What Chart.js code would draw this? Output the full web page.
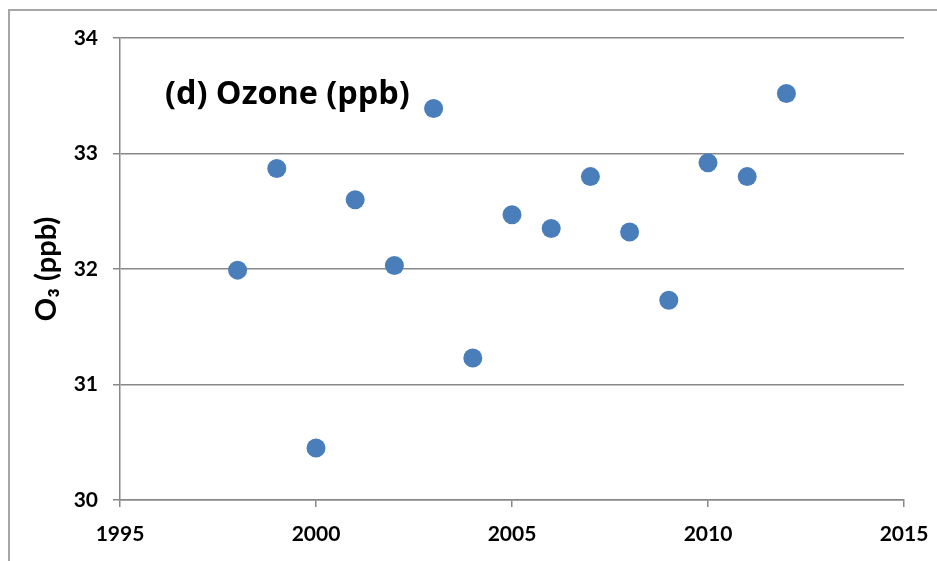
<!DOCTYPE html>
<html><head><meta charset="utf-8">
<script src="https://cdn.jsdelivr.net/npm/chart.js@4/dist/chart.umd.min.js"></script>
<style>html,body{margin:0;padding:0;background:#fff}#wrap{width:937px;height:561px}</style>
</head><body><div id="wrap"><canvas id="c" width="937" height="561"></canvas></div>
<script>
const years = [1998,1999,2000,2001,2002,2003,2004,2005,2006,2007,2008,2009,2010,2011,2012];
const ozone = [31.99,32.87,30.45,32.60,32.03,33.39,31.23,32.47,32.35,32.80,32.32,31.73,32.92,32.80,33.52];
const xTicks = [1995,2000,2005,2010,2015];
const yTicks = [30,31,32,33,34];
const panelTitle = "(d) Ozone (ppb)";
const yTitle = "O\u2083 (ppb)";

const FONT = "Lato, 'Open Sans', sans-serif";
const TFONT = "'Open Sans', Lato, sans-serif";
const framePlugin = {
  id:'frame',
  beforeDraw(chart){
    const ctx = chart.ctx;
    ctx.save();
    ctx.fillStyle='#fff';
    ctx.fillRect(0,0,chart.width,chart.height);
    ctx.strokeStyle='#a6a6a6';
    ctx.lineWidth=2;
    ctx.strokeRect(9,10,chart.width+20,chart.height+20);
    ctx.restore();
  },
  afterDraw(chart){
    const ctx = chart.ctx, a = chart.chartArea;
    ctx.save();
    ctx.fillStyle='#000';
    let size = 28;
    ctx.font = "bold " + size + "px " + TFONT;
    const w = ctx.measureText(panelTitle).width;
    size = size * 245 / w;
    ctx.font = "bold " + size.toFixed(1) + "px " + TFONT;
    ctx.textBaseline='middle';
    ctx.textAlign='left';
    ctx.fillText(panelTitle, a.left+45, a.top+57);
    ctx.restore();
  }
};

new Chart(document.getElementById('c'), {
  type:'scatter',
  data:{datasets:[{data: years.map((y,i)=>({x:y,y:ozone[i]})),
    backgroundColor:'#4a7ebb', borderColor:'#4a7ebb', pointRadius:9.5, pointHoverRadius:9.5, borderWidth:0}]},
  options:{
    responsive:false, animation:false, devicePixelRatio:1,
    layout:{padding:{left:29,right:33,top:38,bottom:0}},
    plugins:{legend:{display:false},tooltip:{enabled:false}},
    scales:{
      x:{type:'linear',min:1995,max:2015,
        afterBuildTicks(s){s.ticks = xTicks.map(v=>({value:v}));},
        afterFit(s){s.height=61; s.paddingRight=0; s.paddingLeft=0;},
        grid:{drawOnChartArea:false,drawTicks:true,tickLength:7,color:'#888',lineWidth:1.5},
        border:{color:'#888',width:1.5},
        ticks:{color:'#000',font:{family:FONT,size:21,weight:'bold'},padding:15,maxRotation:0,
          callback:v=>String(v)}
      },
      y:{min:30,max:34,
        afterBuildTicks(s){s.ticks = yTicks.map(v=>({value:v}));},
        afterFit(s){s.width=91; s.paddingTop=0; s.paddingBottom=0;},
        grid:{color:'#888',lineWidth:1.5,tickLength:7},
        border:{color:'#888',width:1.5},
        ticks:{color:'#000',font:{family:FONT,size:21,weight:'bold'},padding:15,callback:v=>String(v)},
        title:{display:true,text:yTitle,color:'#000',font:{family:FONT,size:29,weight:'bold'},padding:{top:0,bottom:0}}
      }
    }
  },
  plugins:[framePlugin]
});
</script></body></html>
